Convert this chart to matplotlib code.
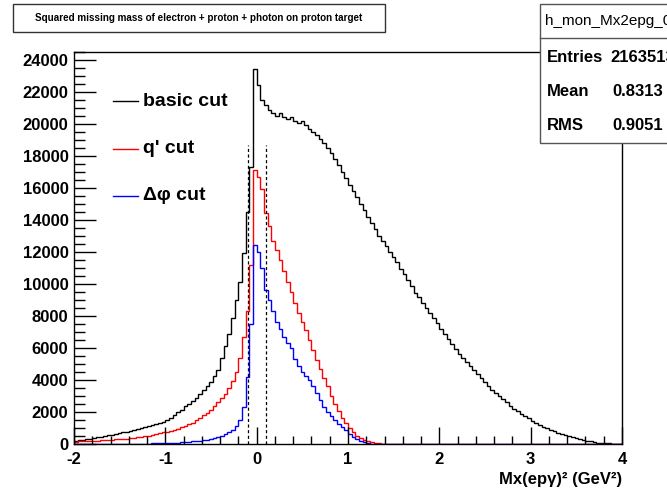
import numpy as np
import matplotlib
matplotlib.use("Agg")
import matplotlib.pyplot as plt
from matplotlib.patches import Rectangle
from matplotlib.lines import Line2D
from matplotlib.ticker import MultipleLocator

plt.rcParams['font.family'] = ['Liberation Sans', 'DejaVu Sans']
plt.rcParams['axes.unicode_minus'] = False

# histogram binning: 150 bins from -2 to 4 GeV^2
x_min, x_max, n_bins = -2.0, 4.0, 150

basic_cut = [
    200, 230, 270, 310, 340,
    380, 410, 450, 500, 540,
    580, 610, 670, 720, 760,
    820, 880, 930, 1000, 1070,
    1130, 1200, 1270, 1340, 1400,
    1500, 1640, 1800, 1980, 2150,
    2360, 2520, 2700, 2900, 3120,
    3350, 3600, 3900, 4250, 4650,
    5400, 6100, 6900, 7900, 9000,
    10100, 11900, 14500, 17300, 23400,
    22400, 21500, 21150, 20850, 20700,
    20500, 20650, 20400, 20300, 20450,
    20200, 20050, 20150, 19900, 19700,
    19500, 19300, 19050, 18800, 18500,
    18200, 17800, 17400, 17000, 16600,
    16150, 15800, 15400, 15000, 14600,
    14200, 13800, 13400, 13000, 12700,
    12350, 12000, 11700, 11350, 10950,
    10600, 10250, 9850, 9450, 9150,
    8800, 8500, 8200, 7850, 7550,
    7200, 6850, 6550, 6250, 5950,
    5650, 5400, 5150, 4900, 4650,
    4350, 4100, 3850, 3650, 3400,
    3200, 3000, 2800, 2600, 2400,
    2200, 2050, 1900, 1750, 1600,
    1450, 1320, 1200, 1080, 980,
    880, 790, 700, 620, 550,
    480, 420, 360, 310, 260,
    200, 160, 120, 90, 65,
    50, 35, 25, 15, 8,
]

qprime_cut = [
    150, 160, 175, 185, 195,
    205, 215, 230, 245, 255,
    270, 285, 300, 320, 340,
    360, 385, 410, 440, 475,
    510, 560, 610, 660, 720,
    780, 840, 900, 960, 1040,
    1120, 1220, 1340, 1480, 1640,
    1800, 1950, 2150, 2350, 2600,
    2850, 3150, 3500, 3950, 4500,
    5400, 6700, 8300, 11200, 17100,
    16700, 15900, 14400, 13600, 12700,
    12100, 11500, 10800, 10100, 9500,
    8800, 8200, 7650, 7100, 6500,
    5900, 5250, 4700, 4150, 3600,
    3000, 2500, 2050, 1650, 1300,
    980, 720, 520, 370, 260,
    180, 120, 80, 50, 30,
    15, 8, 3, 0, 0,
] + [0] * 60

dphi_cut = [
    5, 5, 5, 5, 5,
    5, 5, 5, 5, 5,
    10, 10, 10, 10, 10,
    15, 15, 20, 20, 25,
    30, 35, 40, 45, 50,
    60, 70, 80, 90, 100,
    120, 140, 160, 185, 210,
    240, 280, 320, 370, 430,
    500, 600, 720, 880, 1100,
    1500, 2300, 4200, 7500, 12450,
    12000, 11000, 9600, 9000, 8300,
    7600, 7200, 6700, 6300, 6000,
    5300, 4900, 4500, 4250, 4000,
    3600, 3200, 2750, 2300, 2000,
    1750, 1500, 1250, 1050, 850,
    620, 450, 300, 200, 120,
    60, 30, 15, 5, 0,
] + [0] * 65

series = [
    ("basic cut", basic_cut, "black"),
    ("q' cut", qprime_cut, "red"),
    ("\u0394\u03c6 cut", dphi_cut, "blue"),
]

cut_lines = [-0.1, 0.1]
cut_top = 18700

title = "Squared missing mass of electron + proton + photon on proton target"
stats_name = "h_mon_Mx2epg_0"
stats_rows = [("Entries", "2163513"), ("Mean", "0.8313"), ("RMS", "0.9051")]

W, H = 667, 495
fig = plt.figure(figsize=(W / 100, H / 100), dpi=100)
fig.set_facecolor("white")

def fx(px):
    return px / W

def fy(py):
    return 1 - py / H

ax = fig.add_axes([fx(74), fy(444), fx(622) - fx(74), fy(51.7) - fy(444)])

edges = np.linspace(x_min, x_max, n_bins + 1)
for label, vals, col in series:
    ax.stairs(vals, edges, color=col, lw=1.0, baseline=None)

for xc in cut_lines:
    ax.plot([xc, xc], [0, cut_top], color="black", lw=0.9, ls=(0, (2.5, 2)))

ax.set_xlim(x_min, x_max)
ax.set_ylim(0, 24500)
ax.xaxis.set_major_locator(MultipleLocator(1))
ax.xaxis.set_minor_locator(MultipleLocator(0.2))
ax.yaxis.set_major_locator(MultipleLocator(2000))
ax.yaxis.set_minor_locator(MultipleLocator(500))
ax.tick_params(axis="x", which="major", direction="in", length=12, width=1, pad=6)
ax.tick_params(axis="x", which="minor", direction="in", length=6, width=1)
ax.tick_params(axis="y", which="major", direction="in", length=16, width=1, pad=4)
ax.tick_params(axis="y", which="minor", direction="in", length=8, width=1)
ax.tick_params(labelsize=12)
for lab in ax.get_xticklabels() + ax.get_yticklabels():
    lab.set_fontweight("bold")
for sp in ax.spines.values():
    sp.set_linewidth(1.0)

ax.text(1.0, -0.09, "Mx(ep\u03b3)\u00b2 (GeV\u00b2)", transform=ax.transAxes,
        ha="right", va="center", fontsize=12, fontweight="bold")

# legend
leg_y = [101, 149, 196]
for (label, vals, col), yy in zip(series, leg_y):
    fig.add_artist(Line2D([fx(113), fx(138)], [fy(yy), fy(yy)], color=col, lw=1.0))
    fig.text(fx(143), fy(yy), label, ha="left", va="center", fontsize=14, fontweight="bold")

# title box
fig.add_artist(Rectangle((fx(13), fy(32)), fx(385) - fx(13), fy(4) - fy(32),
                         transform=fig.transFigure, facecolor="white", edgecolor="#333333", lw=1.0))
fig.text(fx(199), fy(18), title, ha="center", va="center", fontsize=7.1, fontweight="bold")

# stats box
fig.add_artist(Rectangle((fx(540), fy(142.7)), fx(700) - fx(540), fy(4) - fy(142.7),
                         transform=fig.transFigure, facecolor="white", edgecolor="#555555", lw=1.0, zorder=5))
fig.add_artist(Line2D([fx(540), fx(700)], [fy(38), fy(38)], color="#555555", lw=1.0, zorder=6))
fig.text(fx(545), fy(21), stats_name, ha="left", va="center", fontsize=11, zorder=7)
row_y = [57, 91, 125]
val_x = [610, 612, 612]
for (k, v), yy, vx in zip(stats_rows, row_y, val_x):
    fig.text(fx(547), fy(yy), k, ha="left", va="center", fontsize=12, fontweight="bold", zorder=7)
    fig.text(fx(vx), fy(yy), v, ha="left", va="center", fontsize=12, fontweight="bold", zorder=7)

fig.savefig("out.png", dpi=100)
